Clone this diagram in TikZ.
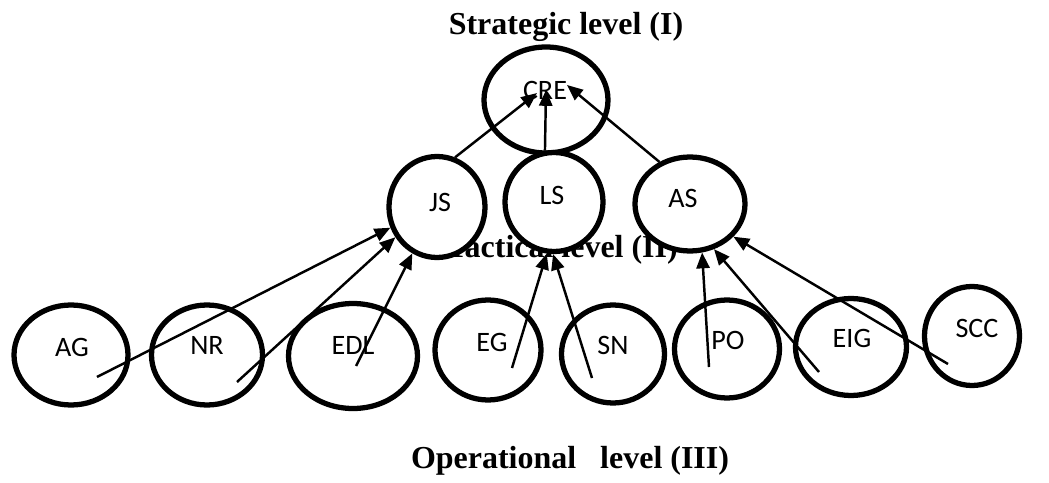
\documentclass[tikz,border=0pt]{standalone}
\usepackage{fontspec}
\setmainfont{Liberation Serif}
\newfontfamily\lblfont{Carlito}
\usetikzlibrary{shapes.geometric,arrows.meta}

\begin{document}
\begin{tikzpicture}[x=0.02cm,y=-0.02cm]

\useasboundingbox (0,0) rectangle (1049,483);

\tikzstyle{lvltitle}=[font=\bfseries\fontsize{18.2}{21}\selectfont,inner sep=0pt,anchor=base]
\tikzstyle{oval}=[draw,shape=ellipse,line width=3pt,fill=white,inner sep=0pt]
\tikzstyle{lbl}=[font=\lblfont\fontsize{16}{18}\selectfont,inner sep=0pt]
\tikzstyle{feed}=[line width=1.4pt,-{Triangle[length=9pt,width=7.5pt]}]

% The three level titles
\node[lvltitle] (strat) at (566,35) {Strategic level (I)};
\node[lvltitle] (tact) at (562,257) {Tactical level (II)};
\node[lvltitle] (oper) at (570,468) {Operational\ \ \ level (III)};

% Draw the ovals (name/x/y/width/height)
\foreach \nm/\x/\y/\w/\h in {cre/546/100/124/106,
  js/437/207/96/101, ls/554/202/98/99, as/690/204/110/94,
  ag/71/355/114/100, nr/207/355/111/100, edl/353/356/129/105,
  eg/488/350/106/100, sn/613/354/103/98, po/727/349/105/98,
  eig/851/347/111/97, scc/972/336/95/99}
  \node[oval,minimum width=\w*0.02cm,minimum height=\h*0.02cm] (\nm) at (\x,\y) {};

% Texts inside the ovals
\foreach \nm/\txt/\x/\y in {cre/CRE/545/90, js/JS/440/202, ls/LS/552/195,
  as/AS/683/198, ag/AG/72/347, nr/NR/207/345, edl/EDL/353/345,
  eg/EG/492/342, sn/SN/613/345, po/PO/728/340, eig/EIG/852/338,
  scc/SCC/977/328}
  \node[lbl] (\nm t) at (\x,\y) {\txt};

% Start points of the arrows inside the lower ovals
\coordinate (agS) at (97,377);
\coordinate (nrS) at (237,382);
\coordinate (edlS) at (356,366);
\coordinate (egS) at (512,368);
\coordinate (snS) at (592,378);
\coordinate (poS) at (709,367);
\coordinate (eigS) at (819,372);
\coordinate (sccS) at (948,364);

% Tips of the arrows inside CRE
\coordinate (creA) at (537,93);
\coordinate (creB) at (546,90);
\coordinate (creC) at (567,85);

% Operational -> tactical
\draw[feed] (agS) -- (js.204);
\draw[feed] (nrS) -- (js.216);
\draw[feed] (edlS) -- (js.242);
\draw[feed] (egS) -- (ls.262);
\draw[feed] (snS) -- (ls.269);
\draw[feed] (poS) -- (as.284);
\draw[feed] (eigS) -- (as.298);
\draw[feed] (sccS) -- (as.323);

% Tactical -> strategic
\draw[feed] (js.70) -- (creA);
\draw[feed] (ls.100) -- (creB);
\draw[feed] (as.126) -- (creC);

\end{tikzpicture}
\end{document}
